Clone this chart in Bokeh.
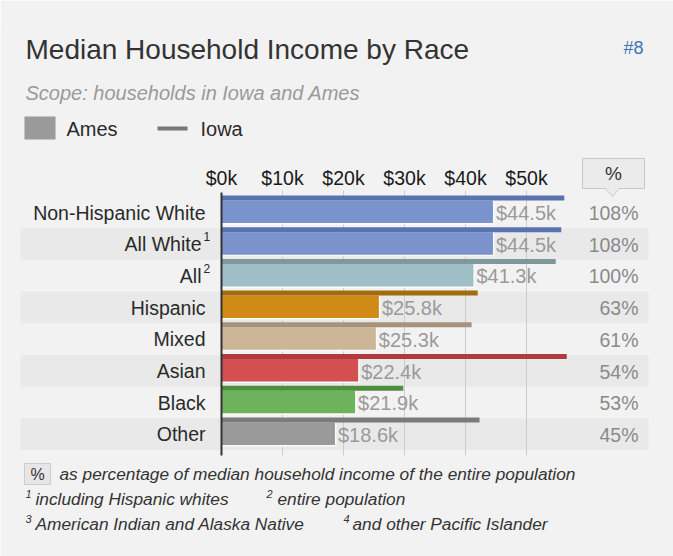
from bokeh.plotting import figure
from bokeh.models import (Range1d, FixedTicker, PrintfTickFormatter, LinearAxis, ColumnDataSource)
from bokeh.core.properties import value
from bokeh.embed import file_html
from bokeh.resources import INLINE

# ---------------- data ----------------
categories = ["Non-Hispanic White", "All White", "All", "Hispanic", "Mixed", "Asian", "Black", "Other"]
superscripts = ["", "1", "2", "", "", "", "", ""]
ames_income = [44.5, 44.5, 41.3, 25.8, 25.3, 22.4, 21.9, 18.6]
iowa_income = [56.2, 55.7, 54.8, 42.0, 41.0, 56.6, 29.8, 42.3]
pct_of_all = [108, 108, 100, 63, 61, 54, 53, 45]
tick_values = [0, 10, 20, 30, 40, 50]

ames_colors = ["#7b93cd", "#7b93cd", "#9ebfc5", "#d08b17", "#cdb597", "#d44f51", "#6db35b", "#9a9a9a"]
iowa_colors = ["#5a72ad", "#5a72ad", "#7e989c", "#a26c0e", "#a6937b", "#b13a3d", "#4e8f3e", "#7b7b7b"]

# ---------------- layout (page pixels) ----------------
W, H = 673, 556
TOP_PANEL = 30
ZERO_X = 221.0
PX_K = 6.1
ROW0_TOP = 195.0
ROW_H = 31.7
GRID_T, GRID_B = 190, 455
AXIS_AT = 198
N = len(categories)
FONT = "Liberation Sans"
BG = "#f2f2f2"
TXT = "#2a2a2a"


def px2x(px):
    return (px - ZERO_X) / PX_K


def py2v(py):
    return N - (py - ROW0_TOP) / ROW_H


p = figure(width=W, height=H, x_range=Range1d(px2x(0), px2x(W)),
           y_range=Range1d(py2v(H), py2v(TOP_PANEL)),
           output_backend="svg", toolbar_location=None,
           x_axis_type=None, y_axis_type=None,
           min_border_left=0, min_border_right=0, min_border_bottom=0,
           min_border_top=TOP_PANEL)
p.background_fill_color = BG
p.border_fill_color = BG
p.outline_line_color = None

ax = LinearAxis(ticker=FixedTicker(ticks=tick_values),
                formatter=PrintfTickFormatter(format="$%dk"),
                fixed_location=py2v(AXIS_AT))
ax.axis_line_color = None
ax.major_tick_line_color = None
ax.minor_tick_line_color = None
ax.major_label_standoff = 4
ax.major_label_text_font = FONT
ax.major_label_text_font_size = "19.5px"
ax.major_label_text_color = "#1a1a1a"
p.add_layout(ax, "above")

# ---------------- rows ----------------
tops = [N - i for i in range(N)]
band_idx = [i for i in range(N) if i % 2 == 1]
band_src = ColumnDataSource(dict(y=[tops[i] - 16.8 / ROW_H for i in band_idx]))
p.hbar(y="y", left=px2x(20), right=px2x(648), height=31.7 / ROW_H, source=band_src,
       fill_color="#000000", fill_alpha=0.035, line_color=None)

# vertical gridlines at the tick values
p.segment(x0=tick_values[1:], x1=tick_values[1:], y0=py2v(GRID_T), y1=py2v(GRID_B),
          line_color="#cccccc", line_width=1)

src = ColumnDataSource(dict(
    cat=categories, sup=superscripts, ames=ames_income, iowa=iowa_income,
    ac=ames_colors, ic=iowa_colors,
    pct=[f"{v}%" for v in pct_of_all],
    vlab=[f"${v}k" for v in ames_income],
    y_iowa=[t - 2.5 / ROW_H for t in tops],
    y_ames=[t - 16.25 / ROW_H for t in tops],
    y_white=[t - 17.0 / ROW_H for t in tops],
    y_lab=[t - 17.0 / ROW_H for t in tops],
    y_val=[t - 17.5 / ROW_H for t in tops],
    y_sup=[t - 9.5 / ROW_H for t in tops],
    ames_white=[v + 1.5 / PX_K for v in ames_income],
    x_val=[v + 3 / PX_K for v in ames_income],
    x_cat=[px2x(201) if s else px2x(205) for s in superscripts],
))

p.hbar(y="y_white", left=0, right="ames_white", height=24 / ROW_H, source=src,
       fill_color="#fbfbfb", line_color=None)
p.hbar(y="y_ames", left=0, right="ames", height=22.5 / ROW_H, source=src,
       fill_color="ac", line_color=None)
p.hbar(y="y_iowa", left=0, right="iowa", height=5 / ROW_H, source=src,
       fill_color="ic", line_color=None)

# zero axis line
p.segment(x0=[0], x1=[0], y0=py2v(192), y1=py2v(GRID_B), line_color="#333333", line_width=2)

p.text(x="x_cat", y="y_lab", text="cat", source=src, text_align="right", text_baseline="middle",
       text_font=value(FONT), text_font_size="19.5px", text_color=TXT)
p.text(x=px2x(203), y="y_sup", text="sup", source=src, text_align="left", text_baseline="middle",
       text_font=value(FONT), text_font_size="12px", text_color=TXT)
p.text(x="x_val", y="y_val", text="vlab", source=src, text_align="left", text_baseline="middle",
       text_font=value(FONT), text_font_size="20px", text_color="#9a9a9a")
p.text(x=px2x(638), y="y_val", text="pct", source=src, text_align="right", text_baseline="middle",
       text_font=value(FONT), text_font_size="19.5px", text_color="#8a8a8a")


# ---------------- helpers for header / footer ----------------
def label(px, py, text, size, color=TXT, style="normal", align="left"):
    p.text(x=[px2x(px)], y=[py2v(py)], text=[text], text_font=value(FONT),
           text_font_size=size, text_color=color, text_font_style=style,
           text_align=align, text_baseline="middle")


def box(l, r, t, b, fill, line=None):
    p.quad(left=[px2x(l)], right=[px2x(r)], top=[py2v(t)], bottom=[py2v(b)],
           fill_color=fill, line_color=line, line_width=1)


label(25, 49, "Median Household Income by Race", "28px", "#333333")
label(643, 47, "#8", "18px", "#3a76b8", align="right")
label(25, 92, "Scope: households in Iowa and Ames", "20px", "#9a9a9a", style="italic")

box(24, 55, 116, 139, "#9a9a9a")
label(66, 128, "Ames", "20px")
box(157, 187, 126, 130, "#777777")
label(200, 128, "Iowa", "20px")

# % header box with pointer
box(582, 644, 158, 188, "#ebebeb", "#c8c8c8")
p.patch(x=[px2x(605), px2x(619), px2x(612)], y=[py2v(188), py2v(188), py2v(196)],
        fill_color="#ebebeb", line_color="#c8c8c8")
box(606, 618, 187, 189.5, "#ebebeb")
label(613, 173, "%", "19px", "#333333", align="center")

# ---------------- footer ----------------
box(24, 50, 463, 484, "#e6e6e6", "#cccccc")
label(37, 474, "%", "16px", "#333333", align="center")
label(59, 473, "as percentage of median household income of the entire population", "17.3px", "#333333", style="italic")
label(25, 493, "1", "11px", "#333333", style="italic")
label(35, 498, "including Hispanic whites", "17.3px", "#333333", style="italic")
label(266, 493, "2", "11px", "#333333", style="italic")
label(277, 498, "entire population", "17.3px", "#333333", style="italic")
label(25, 518, "3", "11px", "#333333", style="italic")
label(35, 523, "American Indian and Alaska Native", "17.3px", "#333333", style="italic")
label(343, 518, "4", "11px", "#333333", style="italic")
label(352, 523, "and other Pacific Islander", "17.3px", "#333333", style="italic")

open("out.html", "w").write(file_html(p, INLINE))
